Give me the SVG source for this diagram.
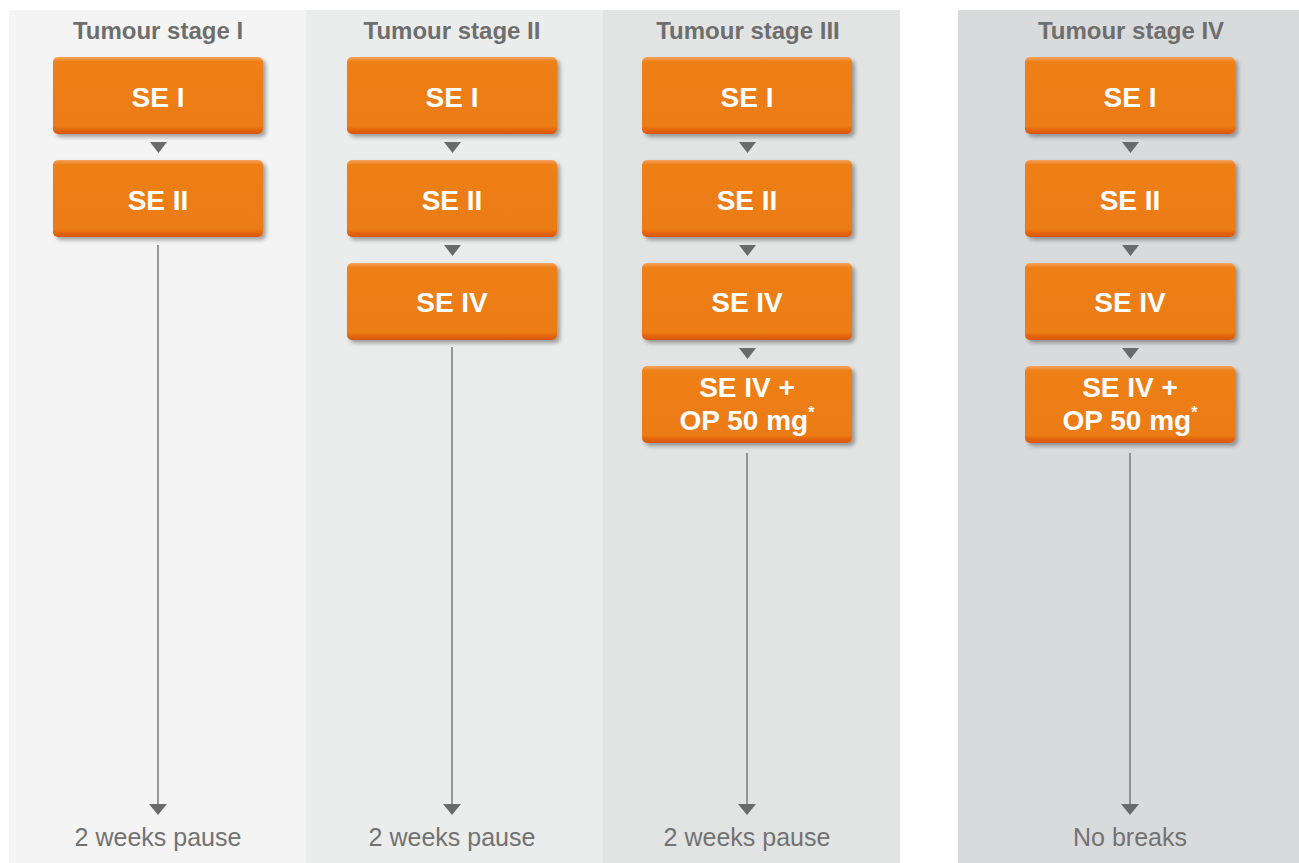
<svg xmlns="http://www.w3.org/2000/svg" width="1299" height="863" viewBox="0 0 1299 863">
<defs>
<style>
.title{font-family:"Liberation Sans",Arial,sans-serif;font-weight:bold;font-size:24px;fill:#6e6e6e;text-anchor:middle}
.foot{font-family:"Liberation Sans",Arial,sans-serif;font-size:25px;fill:#727272;text-anchor:middle}
.lbl{font-family:"Liberation Sans",Arial,sans-serif;font-weight:bold;font-size:28px;fill:#ffffff;text-anchor:middle}
.box{fill:url(#og);filter:url(#sh)}
.line{stroke:#7a7a7a;stroke-width:1.5;fill:none}
.tri{fill:#6a6a6a}
</style>
<linearGradient id="og" x1="0" y1="0" x2="0" y2="1">
<stop offset="0" stop-color="#f6a462"/>
<stop offset="0.06" stop-color="#ee8019"/>
<stop offset="0.9" stop-color="#ec7b13"/>
<stop offset="0.95" stop-color="#e2640b"/>
<stop offset="1" stop-color="#d9560a"/>
</linearGradient>
<filter id="sh" x="-10%" y="-10%" width="125%" height="135%">
<feGaussianBlur in="SourceAlpha" stdDeviation="2"/>
<feOffset dx="3" dy="3" result="b"/>
<feComponentTransfer><feFuncA type="linear" slope="0.35"/></feComponentTransfer>
<feMerge><feMergeNode/><feMergeNode in="SourceGraphic"/></feMerge>
</filter>
<marker id="ah" markerWidth="18" markerHeight="12" refX="9" refY="0" orient="auto" markerUnits="userSpaceOnUse" viewBox="0 0 18 12">
<path d="M0,0 L18,0 L9,11 Z" fill="#6a6a6a" transform="rotate(0)"/>
</marker>
</defs>
<rect width="1299" height="863" fill="#ffffff"/>
<g id="panels">
<rect x="9" y="10" width="297" height="853" fill="#f4f4f4"/>
<rect x="306" y="10" width="297" height="853" fill="#ebecec"/>
<rect x="603" y="10" width="297" height="853" fill="#e2e3e3"/>
<rect x="958" y="10" width="341" height="853" fill="#d9dadc"/>
</g>
<g id="titles">
<text class="title" x="158" y="39">Tumour stage I</text>
<text class="title" x="452" y="39">Tumour stage II</text>
<text class="title" x="748" y="39">Tumour stage III</text>
<text class="title" x="1131" y="39">Tumour stage IV</text>
</g>
<g id="connectors">
<path class="tri" d="M150,142 L167,142 L158.5,153 Z"/>
<path class="line" d="M158,245 V805"/>
<path class="tri" d="M149,804 L167,804 L158,815 Z"/>
<path class="tri" d="M444,142 L461,142 L452.5,153 Z"/>
<path class="tri" d="M444,245 L461,245 L452.5,256 Z"/>
<path class="line" d="M452,347 V805"/>
<path class="tri" d="M443,804 L461,804 L452,815 Z"/>
<path class="tri" d="M739,142 L756,142 L747.5,153 Z"/>
<path class="tri" d="M739,245 L756,245 L747.5,256 Z"/>
<path class="tri" d="M739,348 L756,348 L747.5,359 Z"/>
<path class="line" d="M747,453 V805"/>
<path class="tri" d="M738,804 L756,804 L747,815 Z"/>
<path class="tri" d="M1122,142 L1139,142 L1130.5,153 Z"/>
<path class="tri" d="M1122,245 L1139,245 L1130.5,256 Z"/>
<path class="tri" d="M1122,348 L1139,348 L1130.5,359 Z"/>
<path class="line" d="M1130,453 V805"/>
<path class="tri" d="M1121,804 L1139,804 L1130,815 Z"/>
</g>
<g id="c1-se1"><rect class="box" x="53" y="57" width="210" height="77" rx="5"/><text class="lbl" x="158" y="107">SE I</text></g>
<g id="c1-se2"><rect class="box" x="53" y="160" width="210" height="77" rx="5"/><text class="lbl" x="158" y="210">SE II</text></g>
<g id="c2-se1"><rect class="box" x="347" y="57" width="210" height="77" rx="5"/><text class="lbl" x="452" y="107">SE I</text></g>
<g id="c2-se2"><rect class="box" x="347" y="160" width="210" height="77" rx="5"/><text class="lbl" x="452" y="210">SE II</text></g>
<g id="c2-se4"><rect class="box" x="347" y="263" width="210" height="77" rx="5"/><text class="lbl" x="452" y="312">SE IV</text></g>
<g id="c3-se1"><rect class="box" x="642" y="57" width="210" height="77" rx="5"/><text class="lbl" x="747" y="107">SE I</text></g>
<g id="c3-se2"><rect class="box" x="642" y="160" width="210" height="77" rx="5"/><text class="lbl" x="747" y="210">SE II</text></g>
<g id="c3-se4"><rect class="box" x="642" y="263" width="210" height="77" rx="5"/><text class="lbl" x="747" y="312">SE IV</text></g>
<g id="c3-se4op"><rect class="box" x="642" y="366" width="210" height="77" rx="5"/><text class="lbl" x="747" y="397">SE IV +</text><text class="lbl" x="747" y="430">OP 50 mg<tspan font-size="16" dy="-12">*</tspan></text></g>
<g id="c4-se1"><rect class="box" x="1025" y="57" width="210" height="77" rx="5"/><text class="lbl" x="1130" y="107">SE I</text></g>
<g id="c4-se2"><rect class="box" x="1025" y="160" width="210" height="77" rx="5"/><text class="lbl" x="1130" y="210">SE II</text></g>
<g id="c4-se4"><rect class="box" x="1025" y="263" width="210" height="77" rx="5"/><text class="lbl" x="1130" y="312">SE IV</text></g>
<g id="c4-se4op"><rect class="box" x="1025" y="366" width="210" height="77" rx="5"/><text class="lbl" x="1130" y="397">SE IV +</text><text class="lbl" x="1130" y="430">OP 50 mg<tspan font-size="16" dy="-12">*</tspan></text></g>
<g id="footers">
<text class="foot" x="158" y="846">2 weeks pause</text>
<text class="foot" x="452" y="846">2 weeks pause</text>
<text class="foot" x="747" y="846">2 weeks pause</text>
<text class="foot" x="1130" y="846">No breaks</text>
</g>
</svg>
